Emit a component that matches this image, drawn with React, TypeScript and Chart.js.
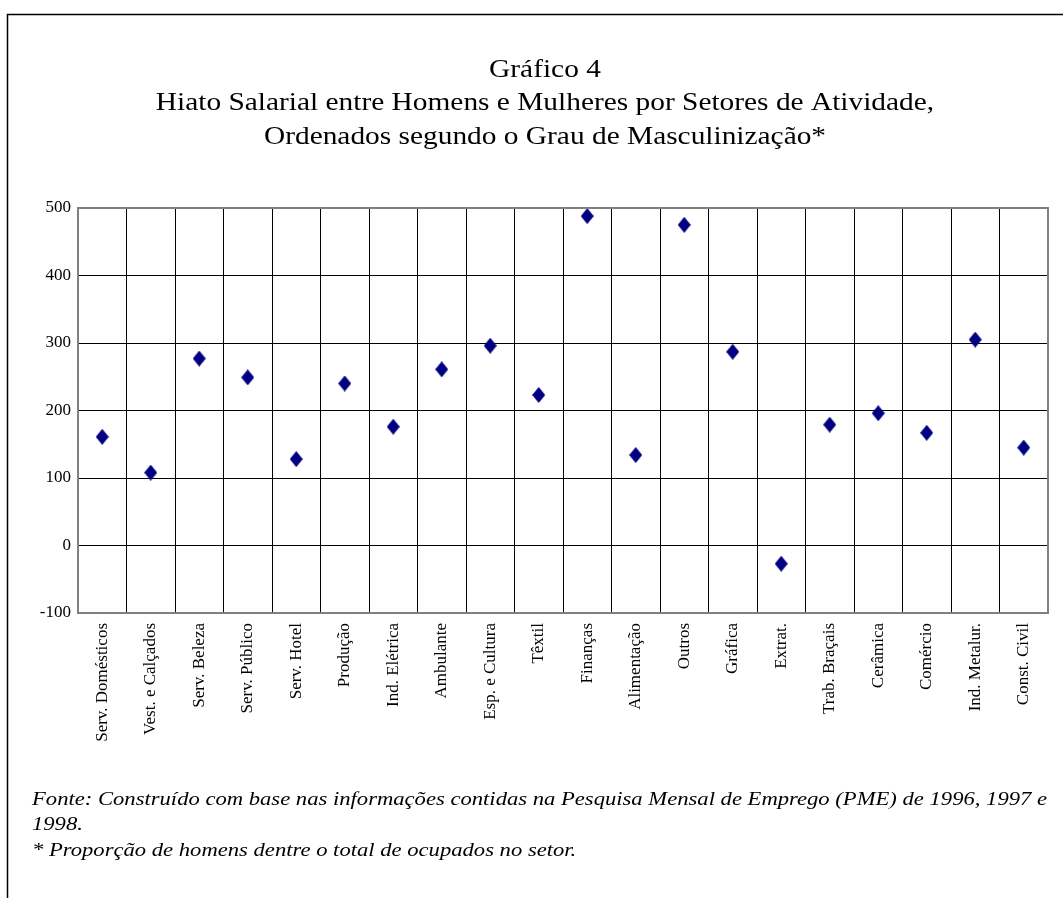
import React, { useEffect, useRef } from "react";
import { Chart, registerables } from "chart.js";

Chart.register(...registerables);

const categories: string[] = [
  "Serv. Domésticos",
  "Vest. e Calçados",
  "Serv. Beleza",
  "Serv. Público",
  "Serv. Hotel",
  "Produção",
  "Ind. Elétrica",
  "Ambulante",
  "Esp. e Cultura",
  "Têxtil",
  "Finanças",
  "Alimentação",
  "Outros",
  "Gráfica",
  "Extrat.",
  "Trab. Braçais",
  "Cerâmica",
  "Comércio",
  "Ind. Metalur.",
  "Const. Civil",
];

const hiato: number[] = [
  161, 108, 277, 249, 128, 240, 176, 261, 296, 223, 488, 134, 475, 287, -27, 179, 196, 167, 305, 145,
];

const yMin = -100;
const yMax = 500;
const yStep = 100;

const titleLines: string[] = [
  "Gráfico 4",
  "Hiato Salarial entre Homens e Mulheres por Setores de Atividade,",
  "Ordenados segundo o Grau de Masculinização*",
];

const footLine1 =
  "Fonte: Construído com base nas informações contidas na Pesquisa Mensal de Emprego (PME) de 1996, 1997 e";
const footLine2 = "1998.";
const footLine3 = "* Proporção de homens dentre o total de ocupados no setor.";

const SERIF = '"Liberation Serif", "Times New Roman", Times, serif';

function makeDiamond(): HTMLCanvasElement {
  const c = document.createElement("canvas");
  c.width = 13;
  c.height = 16;
  const ctx = c.getContext("2d")!;
  ctx.fillStyle = "#000080";
  ctx.beginPath();
  ctx.moveTo(6.5, 0);
  ctx.lineTo(13, 8);
  ctx.lineTo(6.5, 16);
  ctx.lineTo(0, 8);
  ctx.closePath();
  ctx.fill();
  return c;
}

function drawScaled(ctx: CanvasRenderingContext2D, text: string, x: number, y: number, sx: number) {
  ctx.save();
  ctx.translate(x, y);
  ctx.scale(sx, 1);
  ctx.fillText(text, 0, 0);
  ctx.restore();
}

const decorPlugin = {
  id: "decor",
  beforeDraw(chart: any) {
    const ctx = chart.ctx as CanvasRenderingContext2D;
    ctx.save();
    ctx.fillStyle = "#fff";
    ctx.fillRect(0, 0, chart.width, chart.height);
    ctx.restore();
  },
  afterDraw(chart: any) {
    const ctx = chart.ctx as CanvasRenderingContext2D;
    const area = chart.chartArea;
    ctx.save();
    // plot frame
    ctx.strokeStyle = "#808080";
    ctx.lineWidth = 2;
    ctx.strokeRect(area.left, area.top, area.right - area.left, area.bottom - area.top);
    // outer frame (left and top)
    ctx.strokeStyle = "#000";
    ctx.lineWidth = 1.5;
    ctx.beginPath();
    ctx.moveTo(7.5, chart.height);
    ctx.lineTo(7.5, 14.5);
    ctx.lineTo(chart.width, 14.5);
    ctx.stroke();
    // title (horizontally stretched like the source)
    ctx.fillStyle = "#000";
    ctx.font = `26px ${SERIF}`;
    ctx.textAlign = "center";
    ctx.textBaseline = "alphabetic";
    const tScale = 1.13;
    const baselines = [77, 110, 144];
    titleLines.forEach((t, i) => drawScaled(ctx, t, 545, baselines[i], tScale));
    // footnote
    ctx.font = `italic 18px ${SERIF}`;
    ctx.textAlign = "left";
    const x0 = 32;
    const x1 = 1047;
    const natural = ctx.measureText(footLine1).width;
    const fScale = (x1 - x0) / natural;
    drawScaled(ctx, footLine1, x0, 805, fScale);
    drawScaled(ctx, footLine2, x0, 830, fScale);
    drawScaled(ctx, footLine3, x0, 856, fScale);
    ctx.restore();
  },
};

export default function App() {
  const ref = useRef<HTMLCanvasElement | null>(null);
  useEffect(() => {
    if (!ref.current) return;
    const diamond = makeDiamond();
    const chart = new Chart(ref.current, {
      type: "line",
      data: {
        labels: categories,
        datasets: [
          {
            data: hiato,
            showLine: false,
            pointStyle: diamond as any,
            pointRadius: 7,
            pointBackgroundColor: "#000080",
            pointBorderColor: "#000080",
          },
        ],
      },
      options: {
        responsive: false,
        animation: false,
        events: [],
        layout: { padding: { left: 0, right: 15, top: 208, bottom: 0 } },
        plugins: {
          legend: { display: false },
          title: { display: false },
          tooltip: { enabled: false },
        },
        scales: {
          x: {
            type: "category",
            offset: true,
            afterFit: (s: any) => {
              s.height = 285;
            },
            grid: {
              offset: true,
              color: "#000",
              lineWidth: 1,
              drawTicks: false,
            },
            border: { display: false },
            ticks: {
              autoSkip: false,
              maxRotation: 90,
              minRotation: 90,
              padding: 10,
              color: "#000",
              font: { family: SERIF, size: 17 },
            },
          },
          y: {
            min: yMin,
            max: yMax,
            afterFit: (s: any) => {
              s.width = 78;
            },
            grid: {
              color: "#000",
              lineWidth: 1,
              drawTicks: false,
            },
            border: { display: false },
            ticks: {
              stepSize: yStep,
              padding: 7,
              color: "#000",
              font: { family: SERIF, size: 17 },
            },
          },
        },
      },
      plugins: [decorPlugin],
    });
    return () => chart.destroy();
  }, []);
  return (
    <div style={{ position: "absolute", left: 0, top: 0, width: 1063, height: 898, background: "#fff" }}>
      <canvas ref={ref} width={1063} height={898} style={{ display: "block" }} />
    </div>
  );
}
